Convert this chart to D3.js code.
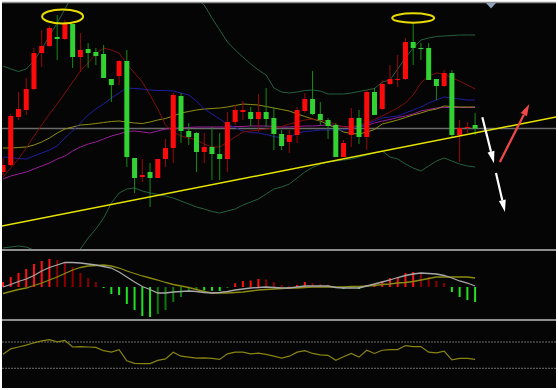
<!DOCTYPE html>
<html>
<head>
<meta charset="utf-8">
<script src="https://cdnjs.cloudflare.com/ajax/libs/d3/7.8.5/d3.min.js"></script>
<style>
  body { margin: 0; background: #fff; }
  svg { display: block; }
</style>
</head>
<body>
<svg id="chart"></svg>
<script>
// candles (price units)
const open = [78,85,133,140,161,197,204,213,211,226, 193,201,198,196,171,174,189,92,73,78, 72,91,102,154,119,117,98,103,96,91, 128,138,138,131,138,132,116,108,115,139, 151,136,130,125,93,115,132,113,158,141, 166,170,171,208,202,202,171,164,177,115, 122,125];
const high = [92,136,158,172,202,220,224,235,230,226, 217,207,202,205,171,190,200,92,91,87, 91,111,157,157,127,118,117,123,117,138, 145,149,143,156,162,143,120,120,143,157, 179,148,132,127,110,142,140,160,162,170, 185,195,212,227,207,207,171,180,180,130, 128,137];
const low = [75,84,130,135,160,183,203,190,210,182, 178,182,185,172,148,165,83,57,68,43, 72,83,87,107,105,78,87,70,70,78, 125,130,124,118,123,100,100,97,107,137, 135,125,111,93,93,103,106,100,135,140, 165,163,170,185,190,170,150,163,112,88, 117,115];
const close = [85,134,141,161,197,204,222,211,227,193, 200,197,194,172,165,189,93,72,75,72, 91,102,155,119,113,98,103,96,91,128, 140,140,131,138,131,116,104,115,140,151, 136,130,124,93,107,132,113,158,135,166, 171,171,208,202,201,170,164,177,115,122, 123,121.5];

// moving averages
const maFast = [73,82,91,102,114,125,136,146,157,168, 179,187,196,202,200,197,186,177,168,155, 141,125,118,114,112,110,106,103,103,108, 113,118,119,120,121,122,123.5,126,128,130, 131,130,128.5,125.5,123,123,125,127,130.5,134, 138,142,147,155,167,174,177,176,172,169, 165,161];
const maBlue = [93,92.5,91.5,91,94,97,100,104,112,119, 127,135,141,146,152,157,162,161.5,161,160, 159.5,159.5,159,157,155,149,141,136,131,126, 122.5,119,117.5,117,115.5,113.5,112,112,117,118.5, 119,120,120,120,120,121,123.5,126,129,132, 133,134,137,140,143,147,150,153,152,151, 150,150];
const maOlive = [102,102,102.5,103,105,108,112,117,121,123, 125,125.5,126.5,127.5,128.5,129,128,127,126.5,128, 130,131.5,134,137,138.5,140,141,141.5,142,143, 144.5,146,145.5,145,143.5,142,140.5,139,136,133.5, 131,129,125.5,122,118,116.5,116,118,120.5,126, 128,130,132.5,135,137,139.5,141,144,143.5,143, 143,143];
const maSlow = [71,74,76,78,81,84,87,91,94,99, 103,106,108,111,114,116,118.5,119,118,117, 119,121,121.5,122,122.5,123,123,123,123,123, 123.5,123.5,124,124,124,123.5,123,123,123.5,124, 124,124.5,125,124.5,123.5,123,123.5,124.5,127,129, 130.5,132.5,134,136,139,140.5,142,142.5,142.5,142.5, 142.5,142.5];

// bollinger bands
const bbUpper = [184,181,178.5,181,189,201,214,227,241,255, 265,272,278,282,285,286,285,282,278,274, 270,266,262,258,255,251,245,232,220,208, 200,193,186,180,175,162,158,157,158,159.5, 160,159,156,156,156,157,158.5,160,161.5,168, 170,181,192,202,210,212,213.5,214,214.5,215, 215,215];
const bbLower = [2,3,4,3,0,-6,-11,-12,-10,-5, 1,12,21,32,47,57,61,62,59,57, 55.5,54,52,49,46,43,41,38.5,37,39, 41,45,48,51,56,61,63,66,72,78, 82.5,86,88,89,90,91,93,95,97,99, 93,91,86,82,79,84,89,92,89,86, 84,83];

// MACD
const macdHist = [5,10,14,18,23,26,28,27,25,20, 14,9,5,-1,-7,-8,-17,-23,-29,-30, -27,-23,-15,-10,-5,-3,-3.5,-3.8,-4,-0.5, 3.7,6,6.5,8,7.5,5,2,1,2,5, 4,3,2.5,-1,-2,-1,-2,2,3,6, 9,10,14,15,14,10,6,4,-5,-10, -13,-15];
const macdMain = [0,2.5,5.5,8,11.5,16,19.5,22,24.5,24.5, 24,23,22,20.5,19,15,10,5,0.5,-2.5, -6,-6,-5,-4.5,-4,-4.5,-5.5,-6,-5.5,-4.5, -3,-2,-1,-0.5,0,-0.5,-1,-1,0,1, 1,1,1,-0.5,-1,-1,-1,1,3,5, 7,9.5,11.5,13,14,13.5,13,11.5,9,6, 4,1];
const macdSignal = [-6.5,-4.5,-2.5,-1,1.5,4,7,10,13.5,17, 19.5,21,21.5,22,21,19,16,13.5,11,9, 7,4.5,2.5,1,-0.5,-2.5,-4.5,-6,-6,-6, -5.5,-5,-4,-3,-2.5,-2,-1.5,-1,-1,-0.5, 0,0,0,0,0,0.5,0.5,1,1.5,2.5, 3,4,4.5,5.5,7,8.5,10,10,10,10, 10,9];

// RSI
const rsi = [51.2,59.6,62.4,65.2,68.8,71.6,73.7,70.2,72.3,62.4, 63.1,62.4,61.7,56.8,54.5,58.2,41.5,37.5,37.2,37.2, 42.1,44.2,54.5,48.4,47,45.6,46,45,43.5,52, 54.5,54.5,52,53,51.2,48.4,45.6,48.4,54.5,56.8, 52.6,50.5,49.8,42.1,47.5,52.6,47,57.5,52.6,57.5, 58.5,58.5,64.6,63,63,54.5,53.5,56,42.8,45, 45,43.5];
const rsiLevels = [70, 30];

// drawn objects (bar index, price)
const trendLine = [{ i: -0.13, p: 24 }, { i: 71.45, p: 133 }];
const tops = [{ i: 7.7, p: 233.5, rx: 20.5, ry: 7 }, { i: 53, p: 232, rx: 21, ry: 4.7 }];
const arrows = [
  { from: { i: 61.93, p: 132.7 }, to: { i: 63.44, p: 86.7 }, color: '#ffffff' },
  { from: { i: 63.7, p: 77 }, to: { i: 64.86, p: 38 }, color: '#ffffff' },
  { from: { i: 64.2, p: 88 }, to: { i: 68, p: 146 }, color: '#f04848' }
];

const width = 558;
const height = 390;

const svg = d3.select('#chart').attr('width', width).attr('height', height);

svg.append('rect')
  .attr('x', 2).attr('y', 2)
  .attr('width', 554).attr('height', 386)
  .attr('fill', '#050505');

const defs = svg.append('defs');
const clip = (id, y, h) => defs.append('clipPath').attr('id', id)
  .append('rect').attr('x', 2).attr('y', y).attr('width', 554).attr('height', h);
clip('clip-main', 3, 246);
clip('clip-macd', 251, 68);
clip('clip-rsi', 321, 67);

const idx = d3.range(open.length);
const x = d3.scaleLinear().domain([0, 61]).range([3, 475.1]);
const yPrice = d3.scaleLinear().domain([0, 250]).range([250, 0]);
const yMacd = d3.scaleLinear().domain([-33, 37]).range([320, 250]);
const yRsi = d3.scaleLinear().domain([0, 100]).range([388, 322.3]);

// ---------- main panel ----------
const main = svg.append('g').attr('clip-path', 'url(#clip-main)');

// last price line
main.append('line')
  .attr('x1', 2).attr('x2', 556)
  .attr('y1', yPrice(close[close.length - 1])).attr('y2', yPrice(close[close.length - 1]))
  .attr('stroke', '#6a6a6a').attr('stroke-width', 1.5);

const priceLine = arr => d3.line().x(i => x(i)).y(i => yPrice(arr[i]))(idx);

[
  [bbUpper, '#24603e'],
  [bbLower, '#24603e'],
  [maSlow, '#9a1e9a'],
  [maOlive, '#8e8e16'],
  [maBlue, '#1e1ea0'],
  [maFast, '#7e0d0d']
].forEach(([arr, col]) => {
  main.append('path')
    .attr('d', priceLine(arr))
    .attr('fill', 'none')
    .attr('stroke', col)
    .attr('stroke-width', 1);
});

const candle = main.selectAll('.candle')
  .data(idx)
  .enter()
  .append('g')
  .attr('class', 'candle');

candle.append('line')
  .attr('x1', i => x(i)).attr('x2', i => x(i))
  .attr('y1', i => yPrice(high[i])).attr('y2', i => yPrice(low[i]))
  .attr('stroke', i => close[i] >= open[i] ? '#9a0808' : '#168c16')
  .attr('stroke-width', 1);

candle.append('rect')
  .attr('x', i => x(i) - 2.5)
  .attr('width', 5)
  .attr('y', i => yPrice(Math.max(open[i], close[i])))
  .attr('height', i => Math.max(1, Math.abs(yPrice(open[i]) - yPrice(close[i]))))
  .attr('fill', i => close[i] >= open[i] ? '#ff0a0a' : '#32d232');

main.append('line')
  .attr('x1', x(trendLine[0].i)).attr('y1', yPrice(trendLine[0].p))
  .attr('x2', x(trendLine[1].i)).attr('y2', yPrice(trendLine[1].p))
  .attr('stroke', '#e8e600').attr('stroke-width', 1.5);

main.selectAll('.top')
  .data(tops)
  .enter()
  .append('ellipse')
  .attr('cx', d => x(d.i)).attr('cy', d => yPrice(d.p))
  .attr('rx', d => d.rx).attr('ry', d => d.ry)
  .attr('fill', 'none')
  .attr('stroke', '#e8dc00')
  .attr('stroke-width', 2);

arrows.forEach(a => {
  const x0 = x(a.from.i), y0 = yPrice(a.from.p);
  const x1 = x(a.to.i), y1 = yPrice(a.to.p);
  const len = Math.hypot(x1 - x0, y1 - y0);
  const ux = (x1 - x0) / len, uy = (y1 - y0) / len;
  const head = 12, half = 3.5;
  const bx = x1 - ux * head, by = y1 - uy * head;
  main.append('line')
    .attr('x1', x0).attr('y1', y0)
    .attr('x2', bx).attr('y2', by)
    .attr('stroke', a.color).attr('stroke-width', 2.2);
  main.append('polygon')
    .attr('points', [
      [x1, y1],
      [bx - uy * half, by + ux * half],
      [bx + uy * half, by - ux * half]
    ].map(p => p.join(',')).join(' '))
    .attr('fill', a.color);
});

// ---------- MACD panel ----------
const macd = svg.append('g').attr('clip-path', 'url(#clip-macd)');

macd.selectAll('.hist')
  .data(idx)
  .enter()
  .append('rect')
  .attr('class', 'hist')
  .attr('x', i => x(i) - 1)
  .attr('width', 2)
  .attr('y', i => Math.min(yMacd(0), yMacd(macdHist[i])))
  .attr('height', i => Math.max(1, Math.abs(yMacd(macdHist[i]) - yMacd(0))))
  .attr('fill', i => {
    const v = macdHist[i];
    const prev = i > 0 ? macdHist[i - 1] : 0;
    if (v >= 0) return v >= prev ? '#ff1010' : '#8a0000';
    return v <= prev ? '#22e022' : '#0a7a0a';
  });

const macdLine = arr => d3.line().x(i => x(i)).y(i => yMacd(arr[i]))(idx);

macd.append('path')
  .attr('d', macdLine(macdSignal))
  .attr('fill', 'none').attr('stroke', '#8c8a10').attr('stroke-width', 1.3);

macd.append('path')
  .attr('d', macdLine(macdMain))
  .attr('fill', 'none').attr('stroke', '#a8a8a8').attr('stroke-width', 1.3);

// ---------- RSI panel ----------
const osc = svg.append('g').attr('clip-path', 'url(#clip-rsi)');

osc.selectAll('.level')
  .data(rsiLevels)
  .enter()
  .append('line')
  .attr('x1', 2).attr('x2', 556)
  .attr('y1', d => yRsi(d)).attr('y2', d => yRsi(d))
  .attr('stroke', '#6e6e6e')
  .attr('stroke-dasharray', '2,1');

osc.append('path')
  .attr('d', d3.line().x(i => x(i)).y(i => yRsi(rsi[i]))(idx))
  .attr('fill', 'none').attr('stroke', '#8a8412').attr('stroke-width', 1.2);

// ---------- frame ----------
[2.5, 250, 320].forEach(yy => {
  svg.append('line')
    .attr('x1', 2).attr('x2', 556)
    .attr('y1', yy).attr('y2', yy)
    .attr('stroke', '#8e8e8e')
    .attr('stroke-width', yy < 3 ? 1.5 : 2);
});

svg.append('polygon')
  .attr('points', '486,3 496,3 491,8.5')
  .attr('fill', '#8ea4ba');
</script>
</body>
</html>
